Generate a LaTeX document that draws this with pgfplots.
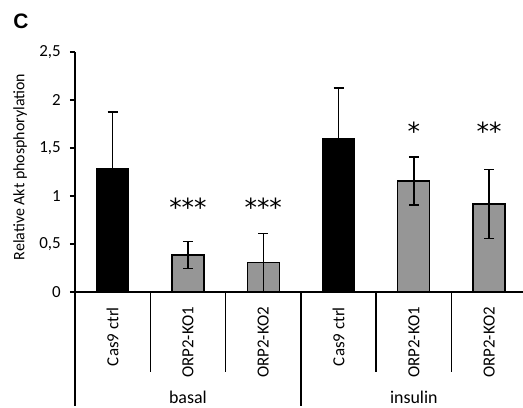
\documentclass[border=0pt]{standalone}
\usepackage{fontspec}
\setmainfont{Carlito}
\newfontfamily\arialb{Liberation Sans}
\newfontfamily\dejavu{DejaVu Sans}
\usepackage{pgfplots}
\pgfplotsset{compat=1.18}
\definecolor{bargray}{RGB}{150,150,150}
\begin{document}
\begin{tikzpicture}
\path[use as bounding box] (0,0) rectangle (523bp,408bp);
\begin{axis}[
  at={(75bp,116bp)}, anchor=south west,
  scale only axis, width=448bp, height=240bp,
  xmin=-0.5, xmax=5.45, ymin=0, ymax=2.5,
  axis x line=bottom, axis y line=left,
  axis line style={line width=1.4bp, -},
  ytick={0,0.5,1,1.5,2,2.5},
  yticklabels={0,{0,5},1,{1,5},2,{2,5}},
  xtick={0,1,2,3,4,5},
  xticklabels={Cas9 ctrl,ORP2-KO1,ORP2-KO2,Cas9 ctrl,ORP2-KO1,ORP2-KO2},
  xtick style={draw=none},
  ytick style={line width=1.4bp, black},
  tick align=outside, major tick length=5bp,
  yticklabel style={font=\fontsize{17}{20}\selectfont, inner sep=0pt, xshift=-9bp},
  xticklabel style={font=\fontsize{17}{20}\selectfont, rotate=90, anchor=east, inner sep=0pt},
  xticklabel shift=10bp,
  clip=false,
  ybar, bar width=32bp,
  error bars/y dir=both, error bars/y explicit,
  error bars/error bar style={line width=1.4bp, black},
  error bars/error mark options={rotate=90, mark size=5bp, line width=1.4bp, black},
]
\addplot[fill=black, draw=black, line width=1.3bp, bar shift=0pt] coordinates {
  (0,1.28) +- (0,0.595)
  (3,1.60) +- (0,0.525)
};
\addplot[fill=bargray, draw=black, line width=1.3bp, bar shift=0pt] coordinates {
  (1,0.385) +- (0,0.14)
  (2,0.305) +- (0,0.305)
  (4,1.156) +- (0,0.25)
  (5,0.917) +- (0,0.36)
};
\draw[line width=1.4bp] (axis cs:-0.5,0) -- ++(0pt,-114bp);
\draw[line width=1.4bp] (axis cs:2.5,0) -- ++(0pt,-114bp);
\draw[line width=1.4bp] (axis cs:0.5,0) -- ++(0pt,-80bp);
\draw[line width=1.4bp] (axis cs:1.5,0) -- ++(0pt,-80bp);
\draw[line width=1.4bp] (axis cs:3.5,0) -- ++(0pt,-80bp);
\draw[line width=1.4bp] (axis cs:4.5,0) -- ++(0pt,-80bp);
\node[font=\fontsize{18}{21}\selectfont] at ([yshift=-105bp]axis cs:1,0) {basal};
\node[font=\fontsize{18}{21}\selectfont] at ([yshift=-105bp]axis cs:4,0) {insulin};
\node[font=\dejavu\fontsize{25}{30}\selectfont, inner sep=0pt] at (axis cs:1,0.88) {***};
\node[font=\dejavu\fontsize{25}{30}\selectfont, inner sep=0pt] at (axis cs:2,0.88) {***};
\node[font=\dejavu\fontsize{25}{30}\selectfont, inner sep=0pt] at (axis cs:4,1.67) {*};
\node[font=\dejavu\fontsize{25}{30}\selectfont, inner sep=0pt] at (axis cs:5,1.67) {**};
\end{axis}
\node[rotate=90, font=\fontsize{16}{19}\selectfont] at (20bp,241bp) {Relative Akt phosphorylation};
\node[font=\arialb\bfseries\fontsize{21}{24}\selectfont] at (21bp,387bp) {C};
\end{tikzpicture}
\end{document}
